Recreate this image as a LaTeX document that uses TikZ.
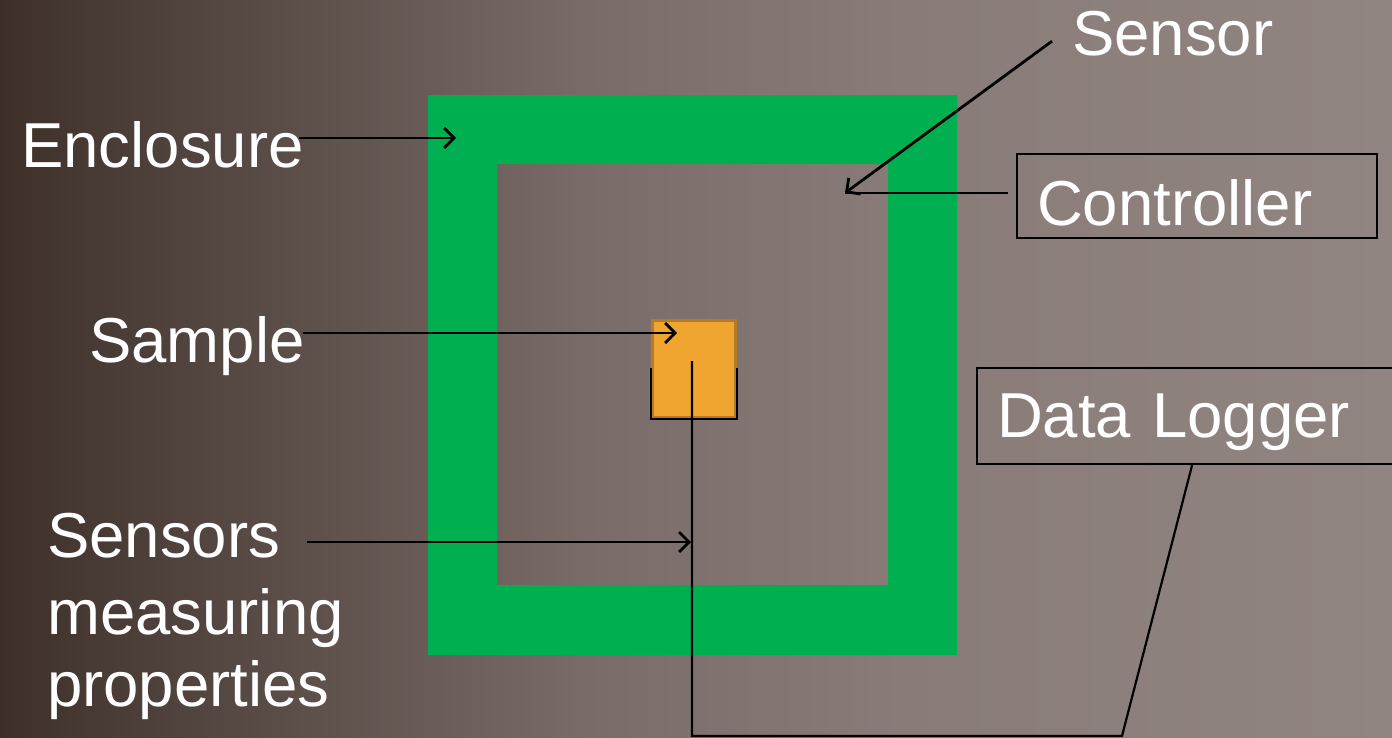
\documentclass[tikz,border=0pt]{standalone}
\usepackage{fontspec}
\setmainfont{Liberation Sans}
\usetikzlibrary{arrows.meta}
\definecolor{bgA}{HTML}{3E3029}
\definecolor{bgB}{HTML}{5D504B}
\definecolor{bgC}{HTML}{7A6D69}
\definecolor{bgD}{HTML}{897C78}
\definecolor{bgE}{HTML}{918581}
\definecolor{encgreen}{HTML}{00AF50}
\definecolor{sampleorange}{HTML}{F0A530}
\definecolor{sampleedge}{HTML}{B97A24}
\pgfdeclarehorizontalshading{bgshade}{100bp}{color(0bp)=(bgA); color(25bp)=(bgA); color(36bp)=(bgB); color(46.5bp)=(bgC); color(57.3bp)=(bgD); color(75bp)=(bgE); color(100bp)=(bgE)}
\begin{document}
\begin{tikzpicture}[x=1pt,y=-1pt,
  lbl/.style={text=white, font=\fontsize{63.5pt}{76pt}\selectfont, inner sep=0pt, anchor=base west},
  arr/.style={line width=2.8pt, -{Straight Barb[length=10pt,width=20pt]}},
  wire/.style={line width=2.2pt},
  boxlbl/.style={lbl, draw=black, line width=2.2pt, inner ysep=0pt, align=left}
]
\useasboundingbox (0,0) rectangle (1392,737);
\shade[shading=bgshade] (0,0) rectangle (1392,737);
% enclosure frame
\fill[encgreen, even odd rule] (428,95) rectangle (957,655) (497,164) rectangle (888,585);
% sample
\node[draw=sampleedge, fill=sampleorange, line width=3pt, minimum width=83pt, minimum height=97pt, inner sep=0pt, anchor=north west] (sq) at (651,319) {};
\coordinate (brk) at (0,368);
\draw[wire] (sq.west |- brk) -- (sq.south west) -- (sq.south east) -- (sq.east |- brk);
% labels
\node[lbl] (enc) at (21,167) {Enclosure};
\node[lbl] (samp) at (89,362) {Sample};
\node[lbl] (sens1) at (47,557) {Sensors};
\node[lbl] (sens2) at (47,634) {measuring};
\node[lbl] (sens3) at (47,706) {properties};
\node[lbl] (sensor) at (1072,55) {Sensor};
\node[boxlbl, text width=320pt, text height=71pt, text depth=13pt, inner xsep=20pt] (ctrl) at (1016,225) {Controller};
\node[boxlbl, text width=394pt, text height=69pt, text depth=27pt, inner xsep=20pt] (dl) at (976,437) {Data Logger};
% connector end points
\coordinate (encT) at (456,138);
\coordinate (sampT) at (677,333);
\coordinate (sensT) at (691,542);
\coordinate (sensorT) at (845,193);
\coordinate (wireTop) at (692,361);
\coordinate (wireCorner) at (692,736);
\coordinate (wireFoot) at (1122,736);
% connectors
\draw[arr] ([xshift=-5pt]enc.east |- encT) -- (encT);
\draw[arr] ([xshift=-2pt]samp.east |- sampT) -- (sampT);
\draw[arr] ([xshift=27pt]sens1.east |- sensT) -- (sensT);
\draw[arr] ([xshift=-20pt,yshift=-8pt]sensor.west) -- (sensorT);
\draw[wire] ([xshift=-8pt]ctrl.west |- sensorT) -- (sensorT);
\draw[wire] ([xshift=-2pt]dl.south) -- (wireFoot) -- (wireCorner) -- (wireTop);
\end{tikzpicture}
\end{document}
